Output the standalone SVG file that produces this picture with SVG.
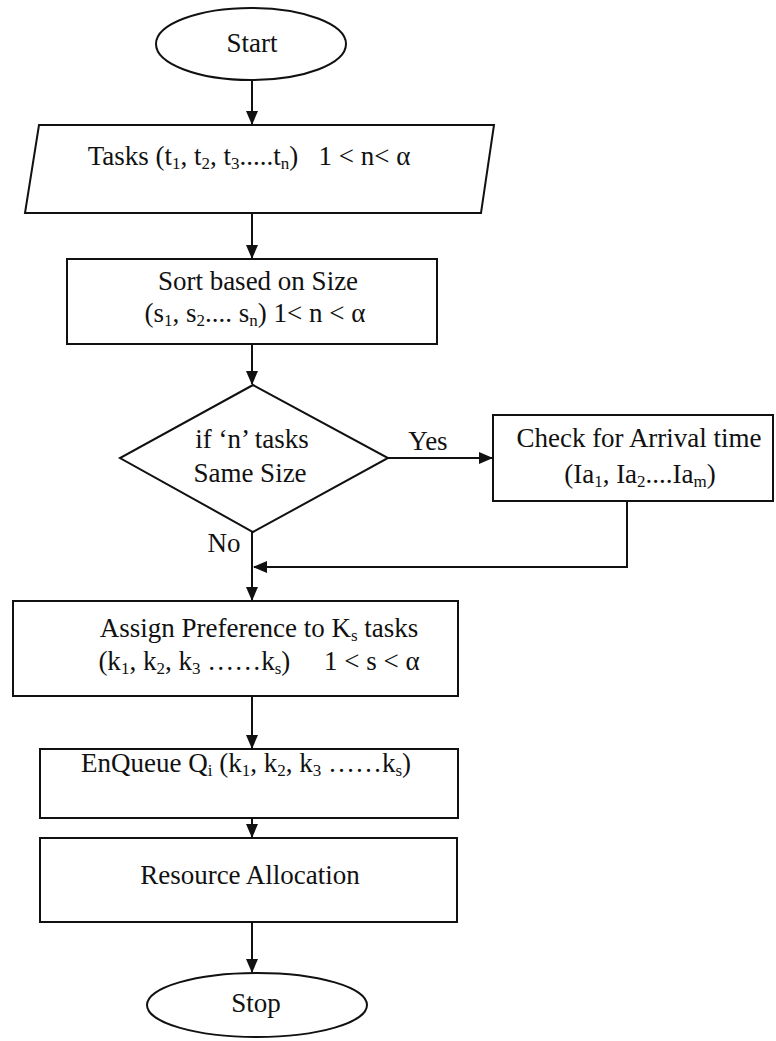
<svg xmlns="http://www.w3.org/2000/svg" width="776" height="1041" viewBox="0 0 776 1041">
<style>
.s{fill:#fff;stroke:#111;stroke-width:2}
.t{font-family:"Liberation Serif","Times New Roman",serif;font-size:27px;fill:#111;text-anchor:middle;white-space:pre}
.sub{font-size:17px}
.c{fill:none;stroke:#111;stroke-width:2}
</style>
<defs>
<marker id="ah" markerUnits="userSpaceOnUse" markerWidth="14" markerHeight="12" refX="13" refY="6" orient="auto">
<path d="M0,0 L14,6 L0,12 Z" fill="#111"/>
</marker>
</defs>
<rect width="776" height="1041" fill="#fff"/>
<g id="connectors">
<line class="c" x1="252" y1="80" x2="252" y2="124" marker-end="url(#ah)"/>
<line class="c" x1="252" y1="213" x2="252" y2="258" marker-end="url(#ah)"/>
<line class="c" x1="252" y1="344" x2="252" y2="384" marker-end="url(#ah)"/>
<line class="c" x1="388" y1="458" x2="492" y2="458" marker-end="url(#ah)"/>
<polyline class="c" points="627,501 627,567 254,567" marker-end="url(#ah)"/>
<line class="c" x1="252" y1="532" x2="252" y2="600" marker-end="url(#ah)"/>
<line class="c" x1="252" y1="696" x2="252" y2="748" marker-end="url(#ah)"/>
<line class="c" x1="252" y1="818" x2="252" y2="837" marker-end="url(#ah)"/>
<line class="c" x1="252" y1="922" x2="252" y2="972" marker-end="url(#ah)"/>
<text class="t" x="428" y="450">Yes</text>
<text class="t" x="224" y="552">No</text>
</g>
<g id="start">
<ellipse class="s" cx="251" cy="44" rx="95" ry="36"/>
<text class="t" x="252" y="52">Start</text>
</g>
<g id="tasks">
<polygon class="s" points="39,125 494,125 481,213 25,213"/>
<text class="t" x="249" y="165">Tasks (t<tspan class="sub" dy="4">1</tspan><tspan dy="-4">, t</tspan><tspan class="sub" dy="4">2</tspan><tspan dy="-4">, t</tspan><tspan class="sub" dy="4">3</tspan><tspan dy="-4">.....t</tspan><tspan class="sub" dy="4">n</tspan><tspan dy="-4">)   1 &lt; n&lt; α</tspan></text>
</g>
<g id="sort">
<rect class="s" x="67" y="259" width="370" height="85"/>
<text class="t" x="258" y="290">Sort based on Size</text>
<text class="t" x="255" y="322">(s<tspan class="sub" dy="4">1</tspan><tspan dy="-4">, s</tspan><tspan class="sub" dy="4">2</tspan><tspan dy="-4">.... s</tspan><tspan class="sub" dy="4">n</tspan><tspan dy="-4">) 1&lt; n &lt; α</tspan></text>
</g>
<g id="decision">
<polygon class="s" points="253,385 388,458 253,532 120,458"/>
<text class="t" x="252" y="448">if ‘n’ tasks</text>
<text class="t" x="250" y="482">Same Size</text>
</g>
<g id="check">
<rect class="s" x="493" y="415" width="280" height="86"/>
<text class="t" x="639" y="447">Check for Arrival time</text>
<text class="t" x="640" y="483">(Ia<tspan class="sub" dy="4">1</tspan><tspan dy="-4">, Ia</tspan><tspan class="sub" dy="4">2</tspan><tspan dy="-4">....Ia</tspan><tspan class="sub" dy="4">m</tspan><tspan dy="-4">)</tspan></text>
</g>
<g id="assign">
<rect class="s" x="13" y="601" width="445" height="95"/>
<text class="t" x="259" y="637">Assign Preference to K<tspan class="sub" dy="4">s</tspan><tspan dy="-4"> tasks</tspan></text>
<text class="t" x="259" y="670">(k<tspan class="sub" dy="4">1</tspan><tspan dy="-4">, k</tspan><tspan class="sub" dy="4">2</tspan><tspan dy="-4">, k</tspan><tspan class="sub" dy="4">3</tspan><tspan dy="-4"> ……k</tspan><tspan class="sub" dy="4">s</tspan><tspan dy="-4">)     1 &lt; s &lt; α</tspan></text>
</g>
<g id="enqueue">
<rect class="s" x="40" y="749" width="418" height="69"/>
<text class="t" x="246" y="772">EnQueue Q<tspan class="sub" dy="4">i</tspan><tspan dy="-4"> (k</tspan><tspan class="sub" dy="4">1</tspan><tspan dy="-4">, k</tspan><tspan class="sub" dy="4">2</tspan><tspan dy="-4">, k</tspan><tspan class="sub" dy="4">3</tspan><tspan dy="-4"> ……k</tspan><tspan class="sub" dy="4">s</tspan><tspan dy="-4">)</tspan></text>
</g>
<g id="resource">
<rect class="s" x="40" y="838" width="417" height="84"/>
<text class="t" x="250" y="884">Resource Allocation</text>
</g>
<g id="stop">
<ellipse class="s" cx="257" cy="1005" rx="110" ry="32"/>
<text class="t" x="256" y="1012">Stop</text>
</g>
</svg>
